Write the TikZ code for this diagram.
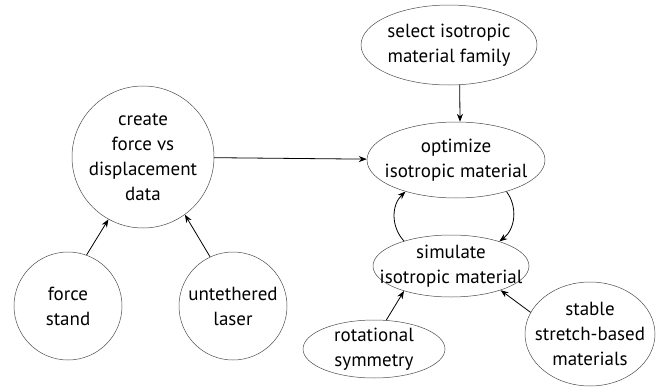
\documentclass[tikz,border=0pt]{standalone}
\usepackage{fontspec}
\setmainfont{PT Sans}
\usetikzlibrary{shapes.geometric,arrows.meta}
\begin{document}
\begin{tikzpicture}[x=1pt,y=-1pt,
  lbl/.style={font=\fontsize{19}{25}\selectfont, align=center, inner sep=0pt},
  oval/.style={draw=black!70, line width=0.5pt, ellipse, inner sep=0pt},
  disc/.style={draw=black!70, line width=0.5pt, circle, inner sep=0pt},
  link/.style={draw=black, line width=0.8pt, -{Stealth[length=8pt,width=6pt]}}]
\useasboundingbox (0,0) rectangle (667,388);
\node[oval, minimum width=176pt, minimum height=80pt, label={[lbl]center:select isotropic\\material family}] (sel) at (449,45) {};
\node[oval, minimum width=178pt, minimum height=76pt, label={[lbl]center:optimize\\isotropic material}] (opt) at (456,160) {};
\node[oval, minimum width=156pt, minimum height=62pt, label={[lbl]center:simulate\\isotropic material}] (sim) at (451,266) {};
\node[disc, minimum size=142pt, label={[lbl]center:create\\force vs\\displacement\\data}] (cre) at (143,157) {};
\node[disc, minimum size=108pt, label={[lbl]center:force\\stand}] (frc) at (68,306) {};
\node[disc, minimum size=108pt, label={[lbl]center:untethered\\laser}] (unt) at (233,306) {};
\node[oval, minimum width=142pt, minimum height=58pt, label={[lbl]center:rotational\\symmetry}] (rot) at (374,349) {};
\node[oval, minimum width=130pt, minimum height=104pt, label={[lbl]center:stable\\stretch-based\\materials}] (stb) at (590,334) {};
\draw[link] (sel.-75) -- (opt.84);
\draw[link] (cre) -- (opt);
\draw[link] (opt.-32) to[bend left=45] (sim.27);
\draw[link] (sim.152) to[bend left=45] (opt.212);
\draw[link] (frc.70) -- (cre.241);
\draw[link] (unt.115) -- (cre.-54);
\draw[link] (rot.67) -- (sim.208);
\draw[link] (stb.160) -- (sim.-26);
\end{tikzpicture}
\end{document}
